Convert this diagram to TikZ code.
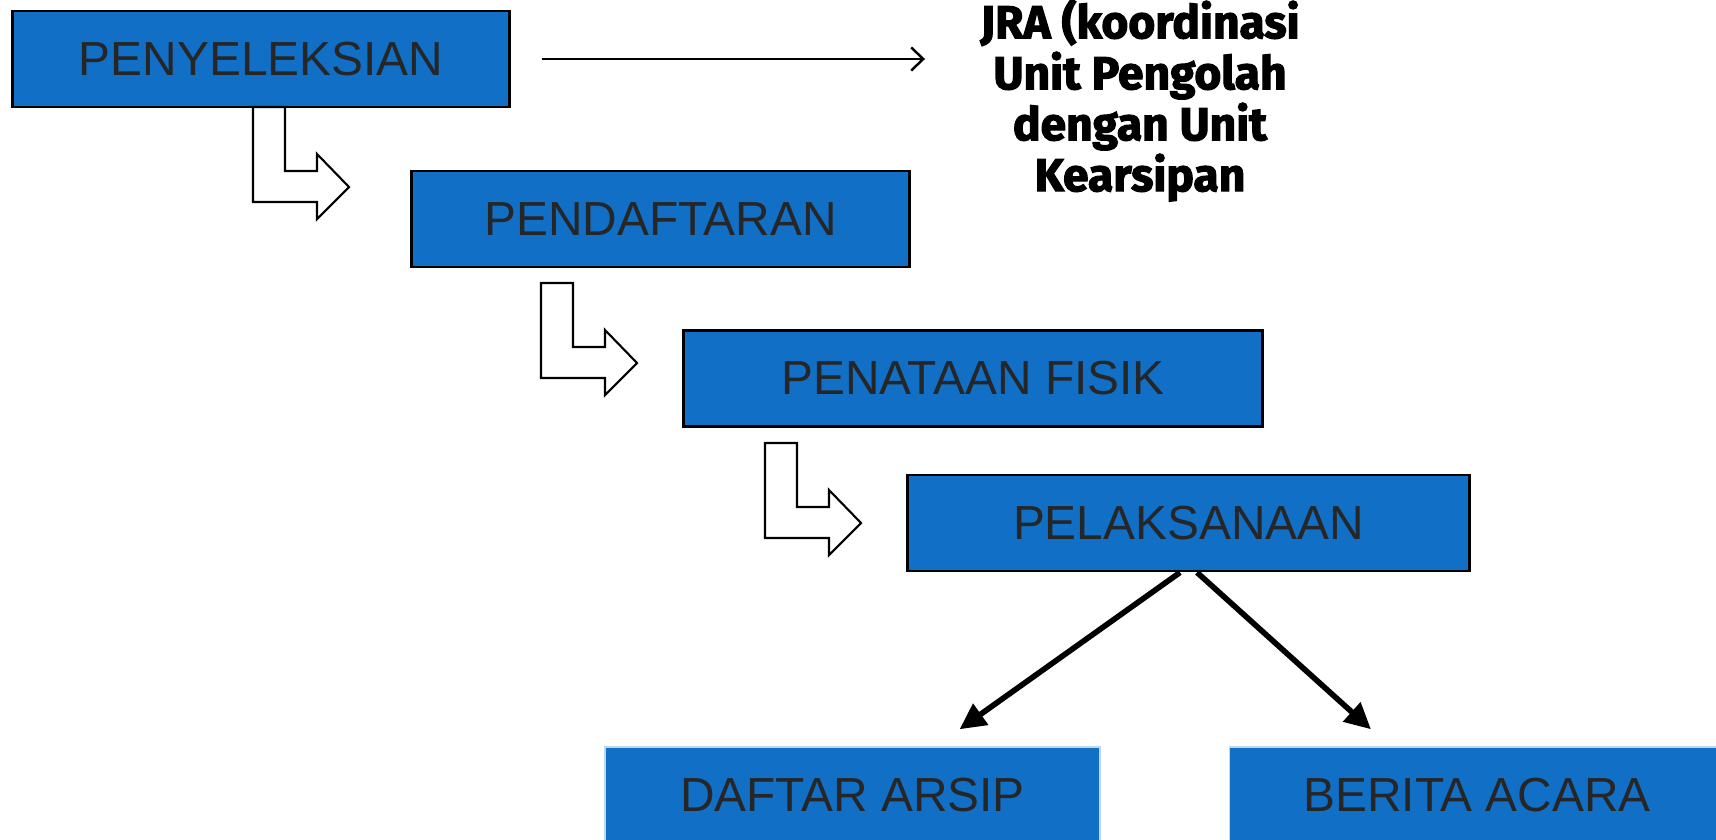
\documentclass[tikz,border=0pt]{standalone}
\usepackage{fontspec}
\setmainfont{Liberation Sans}
\newfontfamily\jrafont[BoldFeatures={FakeBold=2.5}]{Fira Sans}
\usetikzlibrary{arrows.meta,calc,positioning}
\definecolor{boxblue}{RGB}{17,111,198}
\definecolor{boxtext}{RGB}{38,38,38}
\definecolor{boxedge}{RGB}{190,215,238}
\tikzset{
  step-box/.style={draw=black,fill=boxblue,rectangle,line width=0.8pt,minimum height=0.96cm,inner sep=0pt,text=boxtext,font=\fontsize{13.6}{16}\selectfont},
  out-box/.style={step-box,draw=boxedge,line width=0.4pt},
  note/.style={align=center,font=\jrafont\bfseries\fontsize{13.1}{14.5}\selectfont},
  impl-thin/.style={-{Straight Barb[length=1.2mm,width=2.3mm]},line width=0.7pt},
  impl-thick/.style={-{Triangle[length=2.6mm,width=2.5mm]},line width=1.6pt},
  bent/.style={draw=black,fill=white,line width=0.6pt,line join=miter},
  bentarrow/.pic={
    \draw[bent] (0,0) -- (32,0) -- (32,64) -- (64,64) -- (64,47) -- (96,80)
      -- (64,112) -- (64,95) -- (0,95) -- cycle;
  },
}
\begin{document}
\begin{tikzpicture}[x=0.01cm,y=-0.01cm]

  \clip (0,0) rectangle (1716,839);

  % langkah utama
  \node[step-box,minimum width=4.96cm] (penyeleksian) at (261,59)    {PENYELEKSIAN};
  \node[step-box,minimum width=4.97cm] (pendaftaran)  at (660.5,219) {PENDAFTARAN};
  \node[step-box,minimum width=5.78cm] (penataan)     at (973,378.5) {PENATAAN FISIK};
  \node[step-box,minimum width=5.61cm] (pelaksanaan)  at (1188.5,523) {PELAKSANAAN};

  % hasil
  \node[out-box,minimum width=4.95cm] (daftar) at (852.5,795) {DAFTAR ARSIP};
  \node[out-box,minimum width=4.95cm] (berita) at (1477,795)  {BERITA ACARA};

  % catatan JRA
  \node[note] (jra) at (1140,100) {JRA (koordinasi\\Unit Pengolah\\dengan Unit\\Kearsipan};
  \draw[impl-thin,shorten <=3.1mm,shorten >=4.3mm] (penyeleksian.east) -- (penyeleksian.east -| jra.west);

  % panah bengkok antar langkah
  \pic at (253,107) {bentarrow};
  \pic at (541,283) {bentarrow};
  \pic at (765,443) {bentarrow};

  % cabang pelaksanaan
  \draw[impl-thick] ([xshift=-0.085cm]pelaksanaan.south) -- ([xshift=1.07cm,yshift=0.17cm]daftar.north);
  \draw[impl-thick] ([xshift=0.085cm]pelaksanaan.south) -- ([xshift=-1.06cm,yshift=0.17cm]berita.north);

\end{tikzpicture}
\end{document}
